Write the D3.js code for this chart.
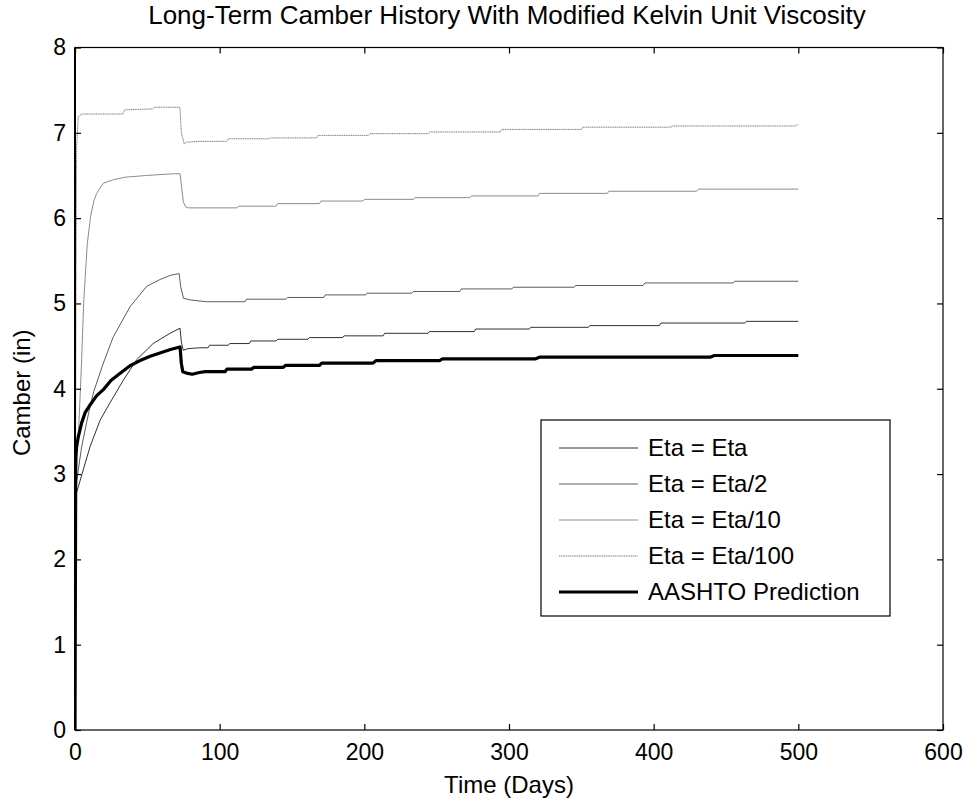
<!DOCTYPE html>
<html>
<head>
<meta charset="utf-8">
<script src="https://cdn.jsdelivr.net/npm/d3@7"></script>
<style>
  html, body { margin: 0; padding: 0; background: #fff; }
  svg { display: block; font-family: "Liberation Sans", Arial, sans-serif; }
</style>
</head>
<body>
<svg id="chart" width="969" height="803"></svg>
<script>
// ---------------- data ----------------
const chartTitle = "Long-Term Camber History With Modified Kelvin Unit Viscosity";
const xLabel = "Time (Days)";
const yLabel = "Camber (in)";
const xTicks = [0, 100, 200, 300, 400, 500, 600];
const yTicks = [0, 1, 2, 3, 4, 5, 6, 7, 8];
const seriesNames = ["Eta = Eta", "Eta = Eta/2", "Eta = Eta/10", "Eta = Eta/100", "AASHTO Prediction"];

// [day, camber (in)]
const etaFull = [[0,0],[0.5,2.75],[2.3,2.85],[5.7,3.05],[10.4,3.32],[17.3,3.63],[24,3.83],[33.4,4.10],[42.6,4.34],[54,4.53],[65.7,4.65],[72.6,4.71],[73.5,4.55],[74.8,4.45],[78,4.47],[86,4.48],[92,4.48],[93,4.51],[106,4.51],[107,4.53],[120.5,4.53],[121.5,4.56],[139,4.56],[140,4.58],[161,4.58],[162,4.60],[185,4.60],[186,4.62],[213,4.62],[214,4.65],[244,4.65],[245,4.67],[276,4.67],[277,4.70],[314,4.70],[315,4.72],[354.7,4.72],[356,4.74],[404,4.74],[405,4.77],[463,4.77],[464,4.79],[500,4.79]];
const etaHalf = [[0,0],[0.5,2.8],[1.1,2.9],[2.3,3.05],[4.6,3.32],[8,3.60],[10.4,3.79],[13,3.97],[19.6,4.30],[26.5,4.61],[38,4.96],[49.5,5.20],[58.7,5.28],[66,5.33],[72,5.35],[73,5.20],[75,5.06],[80,5.04],[91,5.02],[117.5,5.02],[118.5,5.05],[145.8,5.05],[147,5.07],[172,5.07],[173,5.10],[201,5.10],[202,5.12],[232.7,5.12],[234,5.14],[266,5.14],[267,5.17],[302,5.17],[303,5.19],[345,5.19],[346,5.21],[392.7,5.21],[394,5.24],[455,5.24],[456,5.26],[500,5.26]];
const etaTenth = [[0,0],[0.3,2.8],[1.5,3.2],[3,3.7],[4.5,4.3],[6,5.0],[7,5.3],[8.5,5.7],[10.8,6.02],[13,6.2],[15,6.29],[19.6,6.41],[26.5,6.45],[34.6,6.48],[49.5,6.50],[68,6.52],[72.6,6.52],[74.9,6.19],[76.5,6.13],[78.3,6.12],[112,6.12],[113,6.14],[139,6.14],[140,6.17],[169,6.17],[170,6.20],[199,6.20],[200,6.22],[234,6.22],[235,6.24],[273,6.24],[274,6.26],[320,6.26],[321,6.29],[368,6.29],[369,6.315],[429.6,6.315],[431,6.34],[500,6.34]];
const etaHundredth = [[0,0],[0.3,2.8],[0.7,5.0],[1.1,6.84],[2.3,7.19],[4.6,7.22],[33,7.22],[34.5,7.27],[54,7.28],[55,7.30],[72.5,7.30],[73.5,7.0],[75.5,6.87],[77,6.89],[86,6.90],[105,6.90],[106,6.93],[133.6,6.93],[135,6.94],[167,6.94],[168,6.97],[202.7,6.97],[204,6.99],[244,6.99],[245,7.01],[294,7.01],[295,7.04],[350,7.04],[351,7.066],[412,7.066],[413,7.08],[497.6,7.08],[500,7.10]];
const aashto = [[0,0],[0.5,3.2],[1.1,3.32],[2.3,3.44],[4.6,3.60],[7,3.72],[10.4,3.81],[15,3.92],[19.6,3.99],[25,4.10],[31,4.18],[38,4.27],[45,4.33],[52,4.38],[58.7,4.42],[66,4.46],[72.6,4.49],[73.5,4.30],[74.5,4.20],[78,4.18],[81,4.17],[86,4.19],[90,4.20],[103.7,4.20],[105,4.23],[122,4.23],[123.5,4.25],[144,4.25],[145.5,4.275],[169,4.275],[170.5,4.30],[206,4.30],[208,4.33],[252,4.33],[254,4.35],[318,4.35],[321,4.37],[439,4.37],[442,4.39],[500,4.39]];

const seriesData = [etaFull, etaHalf, etaTenth, etaHundredth, aashto];

// ---------------- styles ----------------
const seriesStyle = [
  { color: "#1a1a1a", width: 0.9, dash: null },
  { color: "#4a4a4a", width: 0.9, dash: null },
  { color: "#8c8c8c", width: 1.0, dash: null },
  { color: "#7a7a7a", width: 1.0, dash: "1.2,0.6" },
  { color: "#000000", width: 3.2, dash: null }
];

const svg = d3.select("#chart");
const W = 969, H = 803;
const plot = { left: 75, right: 943, top: 47.5, bottom: 730 };

const x = d3.scaleLinear().domain([0, 600]).range([plot.left, plot.right]);
const y = d3.scaleLinear().domain([0, 8]).range([plot.bottom, plot.top]);

svg.append("rect").attr("width", W).attr("height", H).attr("fill", "#fff");

svg.append("clipPath").attr("id", "clip").append("rect")
  .attr("x", plot.left).attr("y", plot.top)
  .attr("width", plot.right - plot.left).attr("height", plot.bottom - plot.top);

const line = d3.line().x(d => x(d[0])).y(d => y(d[1]));

const gLines = svg.append("g").attr("clip-path", "url(#clip)");
[3, 2, 1, 0, 4].forEach(i => {
  const s = seriesStyle[i];
  gLines.append("path")
    .datum(seriesData[i])
    .attr("d", line)
    .attr("fill", "none")
    .attr("stroke", s.color)
    .attr("stroke-width", s.width)
    .attr("stroke-dasharray", s.dash)
    .attr("stroke-linejoin", "round");
});

// frame
svg.append("rect")
  .attr("x", plot.left).attr("y", plot.top)
  .attr("width", plot.right - plot.left).attr("height", plot.bottom - plot.top)
  .attr("fill", "none").attr("stroke", "#000").attr("stroke-width", 1.2);

const tickFont = 23;
const labelFont = 24;
const tickLen = 6;
const xAxisB = d3.axisBottom(x).tickValues(xTicks).tickSizeInner(-tickLen).tickSizeOuter(0).tickPadding(14).tickFormat(d3.format("d"));
const xAxisT = d3.axisTop(x).tickValues(xTicks).tickSizeInner(-tickLen).tickSizeOuter(0).tickFormat("");
const yAxisL = d3.axisLeft(y).tickValues(yTicks).tickSizeInner(-tickLen).tickSizeOuter(0).tickPadding(9).tickFormat(d3.format("d"));
const yAxisR = d3.axisRight(y).tickValues(yTicks).tickSizeInner(-tickLen).tickSizeOuter(0).tickFormat("");

function styleAxis(g) {
  g.select(".domain").remove();
  g.selectAll(".tick line").attr("stroke", "#000").attr("stroke-width", 1.2);
  g.selectAll(".tick text").attr("fill", "#000").attr("font-size", tickFont)
    .attr("font-family", "'Liberation Sans', Arial, sans-serif");
}
svg.append("g").attr("transform", `translate(0,${plot.bottom})`).call(xAxisB).call(styleAxis);
svg.append("g").attr("transform", `translate(0,${plot.top})`).call(xAxisT).call(styleAxis);
svg.append("g").attr("transform", `translate(${plot.left},0)`).call(yAxisL).call(styleAxis);
svg.append("g").attr("transform", `translate(${plot.right},0)`).call(yAxisR).call(styleAxis);

svg.append("line").attr("x1", plot.left).attr("x2", plot.left)
  .attr("y1", plot.top).attr("y2", plot.bottom)
  .attr("stroke", "#000").attr("stroke-width", 2);

// title and labels
svg.append("text").attr("x", 507).attr("y", 24)
  .attr("text-anchor", "middle").attr("font-size", 26).attr("fill", "#000")
  .text(chartTitle);
svg.append("text").attr("x", 509).attr("y", 793)
  .attr("text-anchor", "middle").attr("font-size", labelFont).attr("fill", "#000")
  .text(xLabel);
svg.append("text").attr("transform", `translate(30,${(plot.top + plot.bottom) / 2 + 4}) rotate(-90)`)
  .attr("text-anchor", "middle").attr("font-size", labelFont).attr("fill", "#000")
  .text(yLabel);

// legend
const legend = { x: 541, y: 420, w: 349, h: 196 };
const lg = svg.append("g");
lg.append("rect").attr("x", legend.x).attr("y", legend.y)
  .attr("width", legend.w).attr("height", legend.h)
  .attr("fill", "#fff").attr("stroke", "#000").attr("stroke-width", 1.2);
seriesNames.forEach((name, i) => {
  const cy = legend.y + 28 + i * 36;
  const s = seriesStyle[i];
  lg.append("line").attr("x1", 559).attr("x2", 638).attr("y1", cy).attr("y2", cy)
    .attr("stroke", s.color).attr("stroke-width", s.width).attr("stroke-dasharray", s.dash);
  lg.append("text").attr("x", 648).attr("y", cy).attr("dy", "0.35em")
    .attr("font-size", labelFont).attr("fill", "#000").text(name);
});
</script>
</body>
</html>
